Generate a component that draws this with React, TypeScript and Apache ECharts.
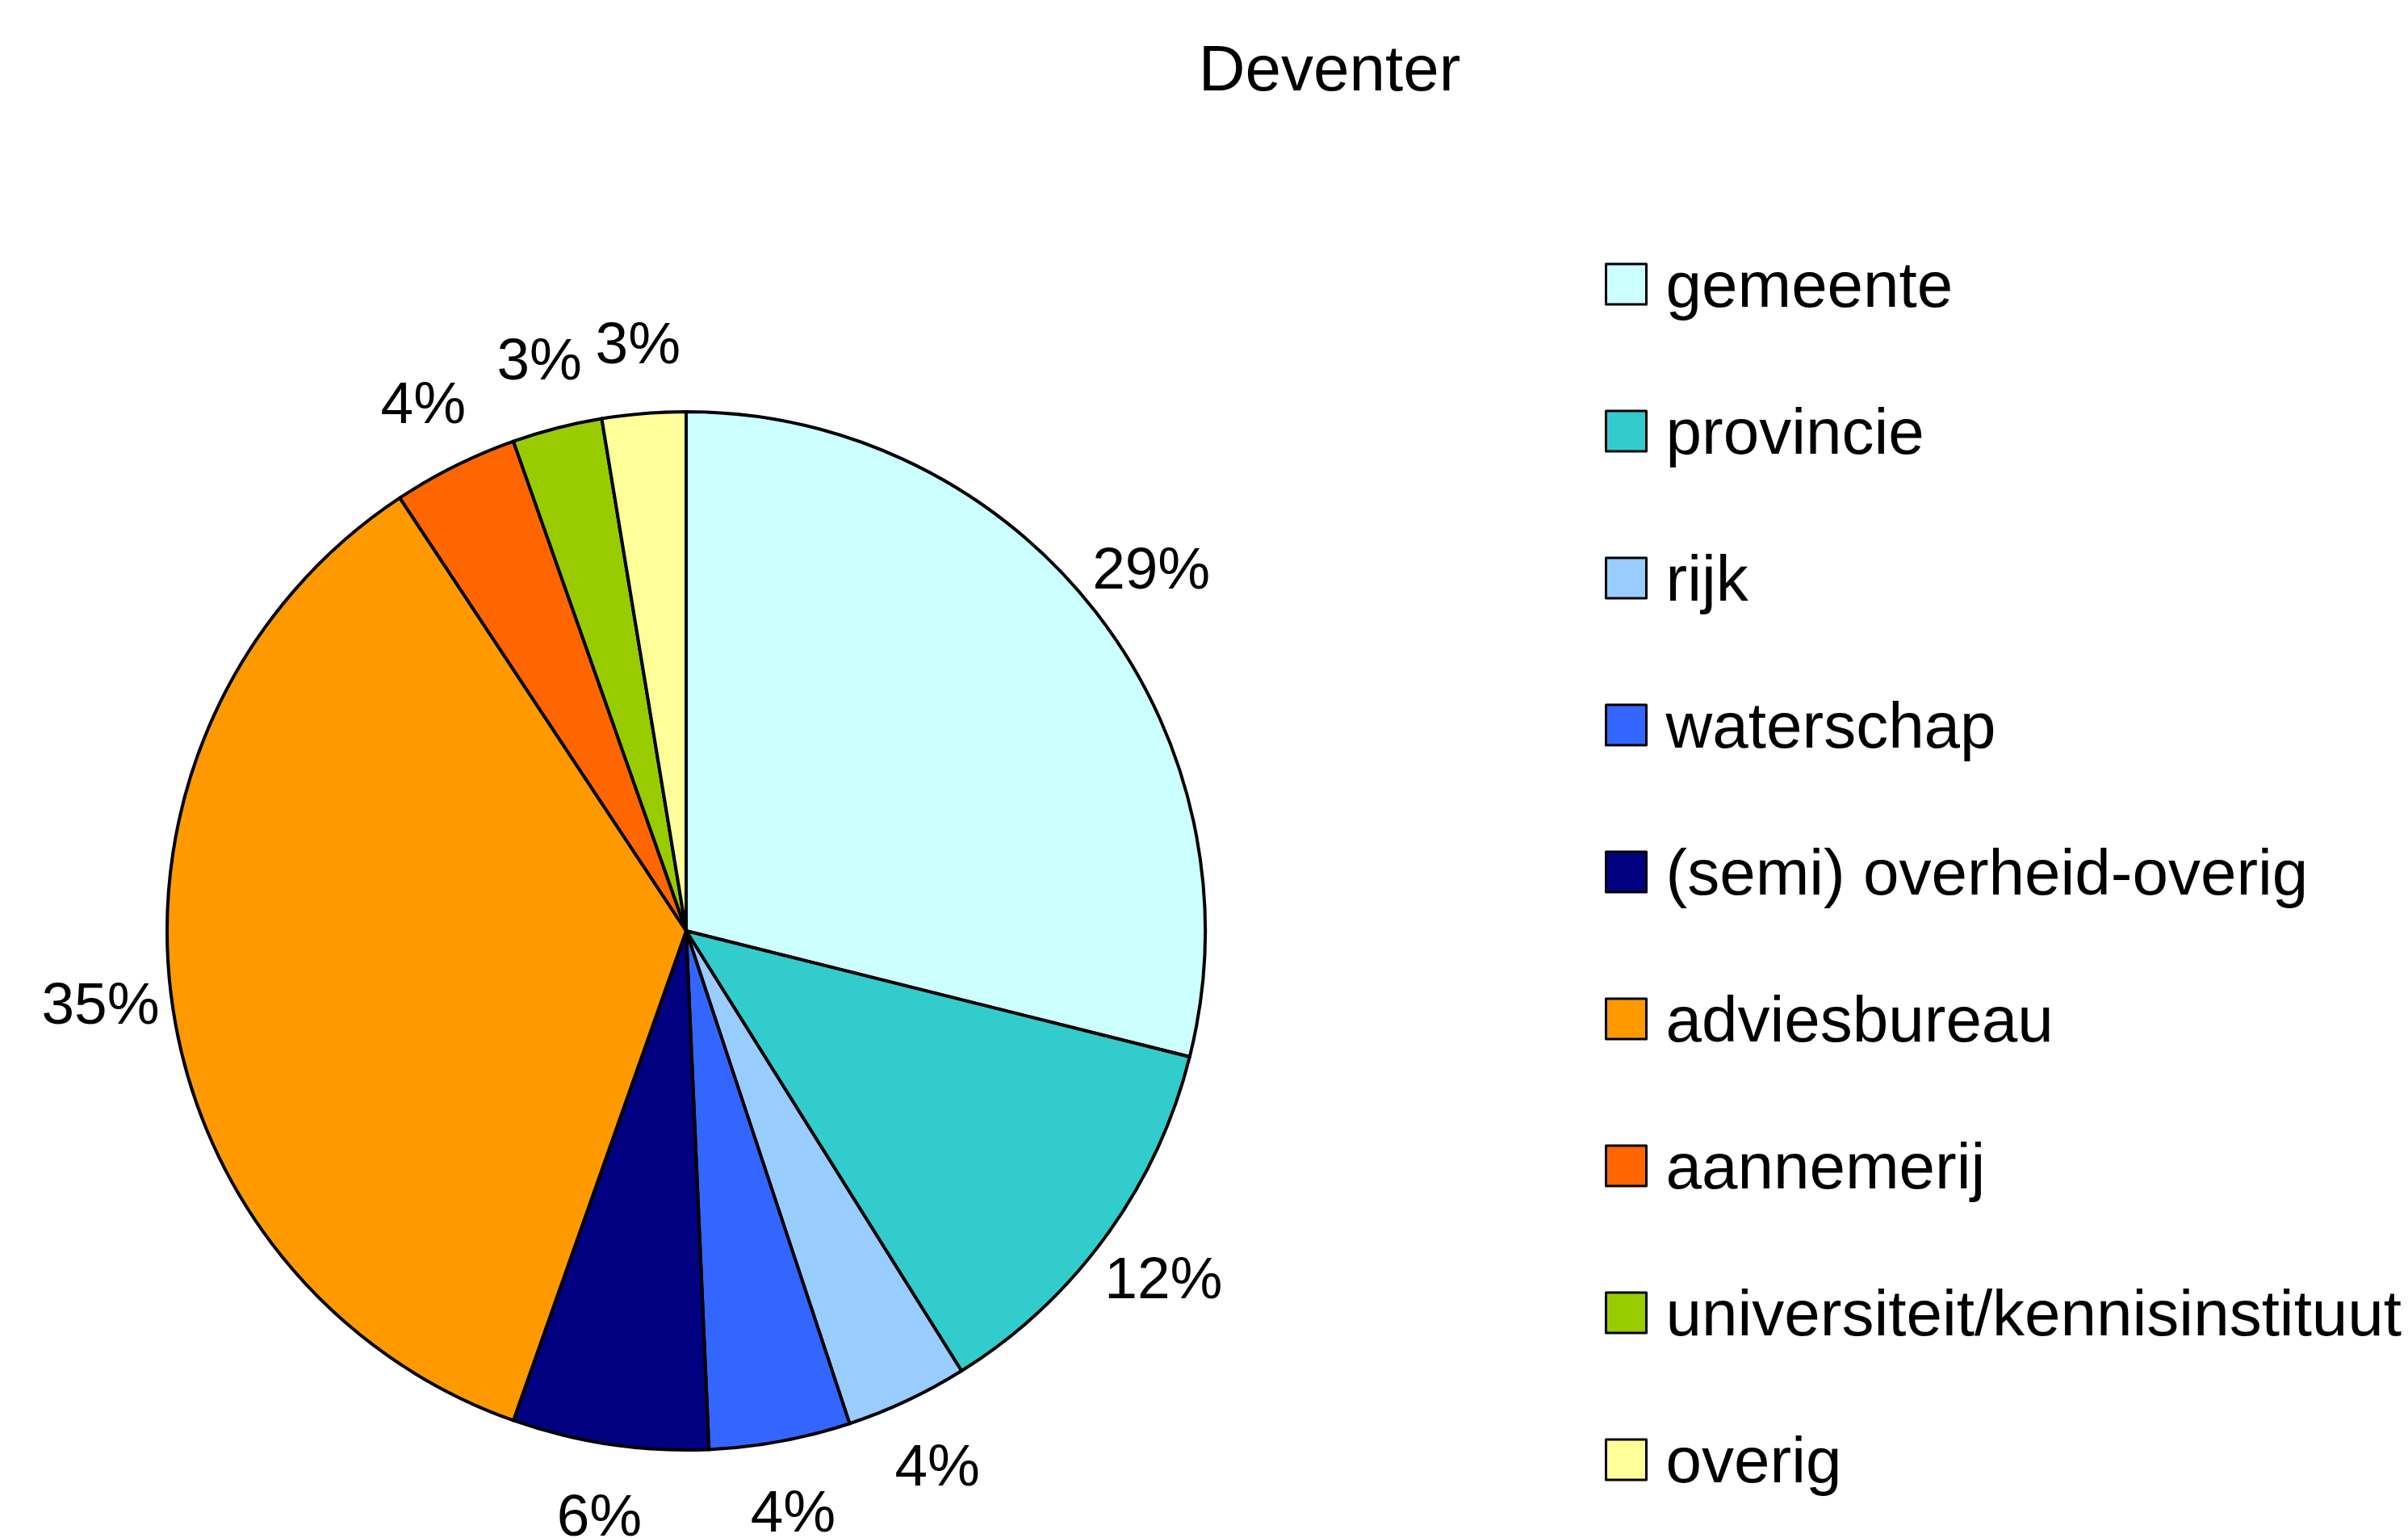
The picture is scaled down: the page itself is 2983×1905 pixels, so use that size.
import React, { useEffect, useRef } from "react";
import * as echarts from "echarts";

const TITLE = "Deventer";
const CATEGORIES = [
  "gemeente",
  "provincie",
  "rijk",
  "waterschap",
  "(semi) overheid-overig",
  "adviesbureau",
  "aannemerij",
  "universiteit/kennisinstituut",
  "overig",
];
const VALUES = [28.9, 12.2, 3.8, 4.4, 6.1, 35.3, 3.9, 2.8, 2.6];
const COLORS = [
  "#CCFFFF",
  "#33CCCC",
  "#99CCFF",
  "#3366FF",
  "#000080",
  "#FF9900",
  "#FF6600",
  "#99CC00",
  "#FFFF99",
];

const FONT = "'Liberation Sans', Arial, sans-serif";

export default function App() {
  const ref = useRef<HTMLDivElement>(null);
  useEffect(() => {
    if (!ref.current) return;
    const chart = echarts.init(ref.current, undefined, { renderer: "svg" });
    const data = CATEGORIES.map((name, i) => ({
      name,
      value: VALUES[i],
      itemStyle: { color: COLORS[i] },
    }));
    chart.setOption({
      animation: false,
      backgroundColor: "#ffffff",
      title: {
        text: TITLE,
        left: 1647,
        top: 44,
        textAlign: "center",
        padding: 0,
        textStyle: {
          fontFamily: FONT,
          fontSize: 80,
          fontWeight: "normal",
          color: "#000",
        },
      },
      legend: {
        orient: "vertical",
        left: 1988,
        top: 312,
        padding: 0,
        itemWidth: 50,
        itemHeight: 50,
        itemGap: 102,
        icon: "rect",
        selectedMode: false,
        data: CATEGORIES,
        itemStyle: { borderColor: "#000", borderWidth: 3 },
        textStyle: {
          fontFamily: FONT,
          fontSize: 80,
          color: "#000",
          padding: [0, 0, 0, 19],
        },
      },
      series: [
        {
          type: "pie",
          center: [850, 1153],
          radius: 643,
          startAngle: 90,
          clockwise: true,
          silent: true,
          data,
          itemStyle: { borderColor: "#000", borderWidth: 4 },
          label: { show: false },
          labelLine: { show: false },
          emphasis: { disabled: true },
        },
        {
          type: "pie",
          center: [850, 1153],
          radius: [684, 772],
          startAngle: 90,
          clockwise: true,
          silent: true,
          data: CATEGORIES.map((name, i) => ({ name, value: VALUES[i] })),
          itemStyle: { color: "rgba(0,0,0,0)", borderWidth: 0 },
          label: {
            show: true,
            position: "inside",
            fontFamily: FONT,
            fontSize: 73,
            lineHeight: 40,
            color: "#000",
            formatter: (p: any) => Math.round(p.percent) + "%",
          },
          labelLine: { show: false },
          emphasis: { disabled: true },
        },
      ],
    });
    return () => chart.dispose();
  }, []);
  return (
    <div
      ref={ref}
      style={{ position: "absolute", left: 0, top: 0, width: 2983, height: 1905 }}
    />
  );
}
